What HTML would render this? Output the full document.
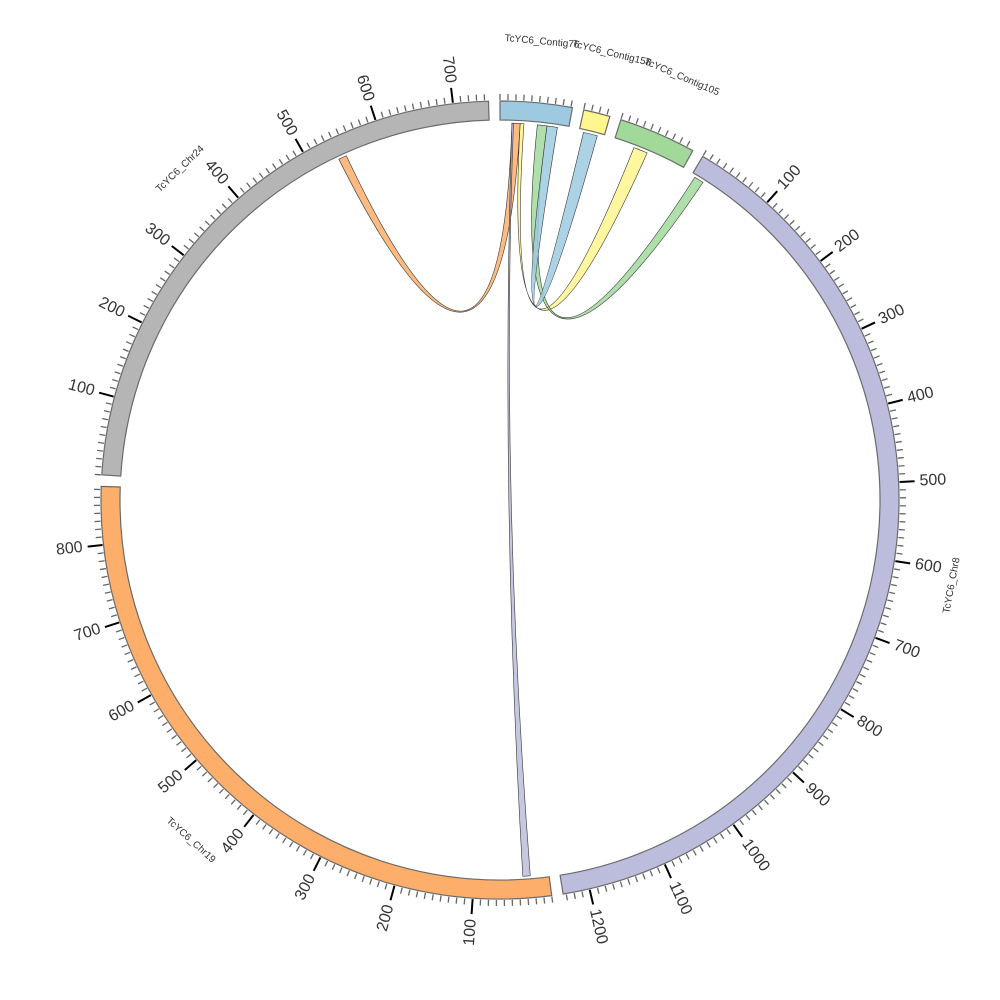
<!DOCTYPE html>
<html><head><meta charset="utf-8"><style>
body{margin:0;background:#fff}
svg{display:block;font-family:"Liberation Sans","DejaVu Sans",sans-serif}
</style></head><body>
<svg id="chart" width="1000" height="1000" viewBox="0 0 1000 1000">
<g id="chords"></g>
<g id="ring"></g>
<g id="ticks"></g>
<g id="labels"></g>
</svg>
<script>
const segNames = ["TcYC6_Contig76","TcYC6_Contig158","TcYC6_Contig105","TcYC6_Chr8","TcYC6_Chr19","TcYC6_Chr24"];
const segLengths = [92, 34, 99, 1234, 874, 745];
const segColors = ["#9ecae1","#fff68f","#a1d99b","#bcbddc","#fdae6b","#b5b5b5"];
const chordSrc = [0, 0, 0, 0, 0];
const chordSrcStart = [16, 16, 27, 50, 63];
const chordSrcEnd = [27, 18, 32, 63, 77];
const chordTgt = [5, 4, 2, 3, 1];
const chordTgtStart = [537, 25, 28, 5, 6];
const chordTgtEnd = [548, 35, 47, 18, 25];
const chordColors = ["#fdae6b","#bcbddc","#fff68f","#a1d99b","#9ecae1"];

const NS="http://www.w3.org/2000/svg", CX=500, CY=500, R0=380, R1=399, RC=377, GAP=1.65;
const total = segLengths.reduce((a,b)=>a+b,0);
const scale = (360 - GAP*segLengths.length)/total;
const segStart=[]; let a=0;
for(let i=0;i<segLengths.length;i++){segStart.push(a); a+=segLengths[i]*scale+GAP;}
function ang(s,u){return segStart[s]+u*scale;}
function pt(th,r){const t=th*Math.PI/180;return [CX+r*Math.sin(t), CY-r*Math.cos(t)];}
function el(tag,attrs,parent){const e=document.createElementNS(NS,tag);for(const k in attrs)e.setAttribute(k,attrs[k]);parent.appendChild(e);return e;}
function arcPath(t1,t2,r,sweep){const p=pt(t2,r);const large=Math.abs(t2-t1)>180?1:0;return `A${r},${r} 0 ${large} ${sweep} ${p[0].toFixed(2)},${p[1].toFixed(2)}`;}

const ring=document.getElementById('ring');
for(let i=0;i<segLengths.length;i++){
  const t1=segStart[i], t2=ang(i,segLengths[i]);
  const p1=pt(t1,R1), p3=pt(t2,R0);
  const d=`M${p1[0]},${p1[1]} ${arcPath(t1,t2,R1,1)} L${p3[0]},${p3[1]} ${arcPath(t2,t1,R0,0)} Z`;
  const e=el('path',{d:d,fill:segColors[i],stroke:'#6b6b6b','stroke-width':1.2},ring);
  
  
}
const tg=document.getElementById('ticks');
for(let i=0;i<segLengths.length;i++){
  for(let u=0;u<=segLengths[i];u+=10){
    const th=ang(i,u), major=(u%100===0&&u>0);
    const p1=pt(th,R1+1), p2=pt(th,major?415:406);
    const t=el('line',{x1:p1[0],y1:p1[1],x2:p2[0],y2:p2[1],stroke:major?'#000':'#666','stroke-width':major?2:1.3},tg);
    
    
    if(major){
      const lp=pt(th,420); const flip=th>180;
      const rot=flip?th+90:th-90;
      const tx=el('text',{x:lp[0],y:lp[1],'font-size':16,fill:'#333','text-anchor':flip?'end':'start','dominant-baseline':'central',transform:`rotate(${rot} ${lp[0]} ${lp[1]})`},tg);
      tx.textContent=u;
      
      
    }
  }
}
const lg=document.getElementById('labels');
for(let i=0;i<segLengths.length;i++){
  const th=ang(i,segLengths[i]/2); const p=pt(th,i<3?460:460);
  const rot=(th<90||th>270)?th:th-180;
  const tx=el('text',{x:p[0],y:p[1],'font-size':10,fill:'#333','text-anchor':'middle','dominant-baseline':'central',transform:`rotate(${rot} ${p[0]} ${p[1]})`},lg);
  tx.textContent=segNames[i];
  
  
}
const cg=document.getElementById('chords');
const QX=CX, QY=CY-18;
for(let k=0;k<chordSrc.length;k++){
  const s1=ang(chordSrc[k],chordSrcStart[k]), s2=ang(chordSrc[k],chordSrcEnd[k]);
  const t1=ang(chordTgt[k],chordTgtStart[k]), t2=ang(chordTgt[k],chordTgtEnd[k]);
  const a1=pt(s1,RC), b1=pt(t1,RC);
  const d=`M${a1[0]},${a1[1]} ${arcPath(s1,s2,RC,1)} Q${QX},${QY} ${b1[0]},${b1[1]} ${arcPath(t1,t2,RC,1)} Q${QX},${QY} ${a1[0]},${a1[1]} Z`;
  const e=el('path',{d:d,fill:chordColors[k],'fill-opacity':0.85,stroke:'#333','stroke-width':0.6},cg);
  
  
}
</script>
</body></html>
